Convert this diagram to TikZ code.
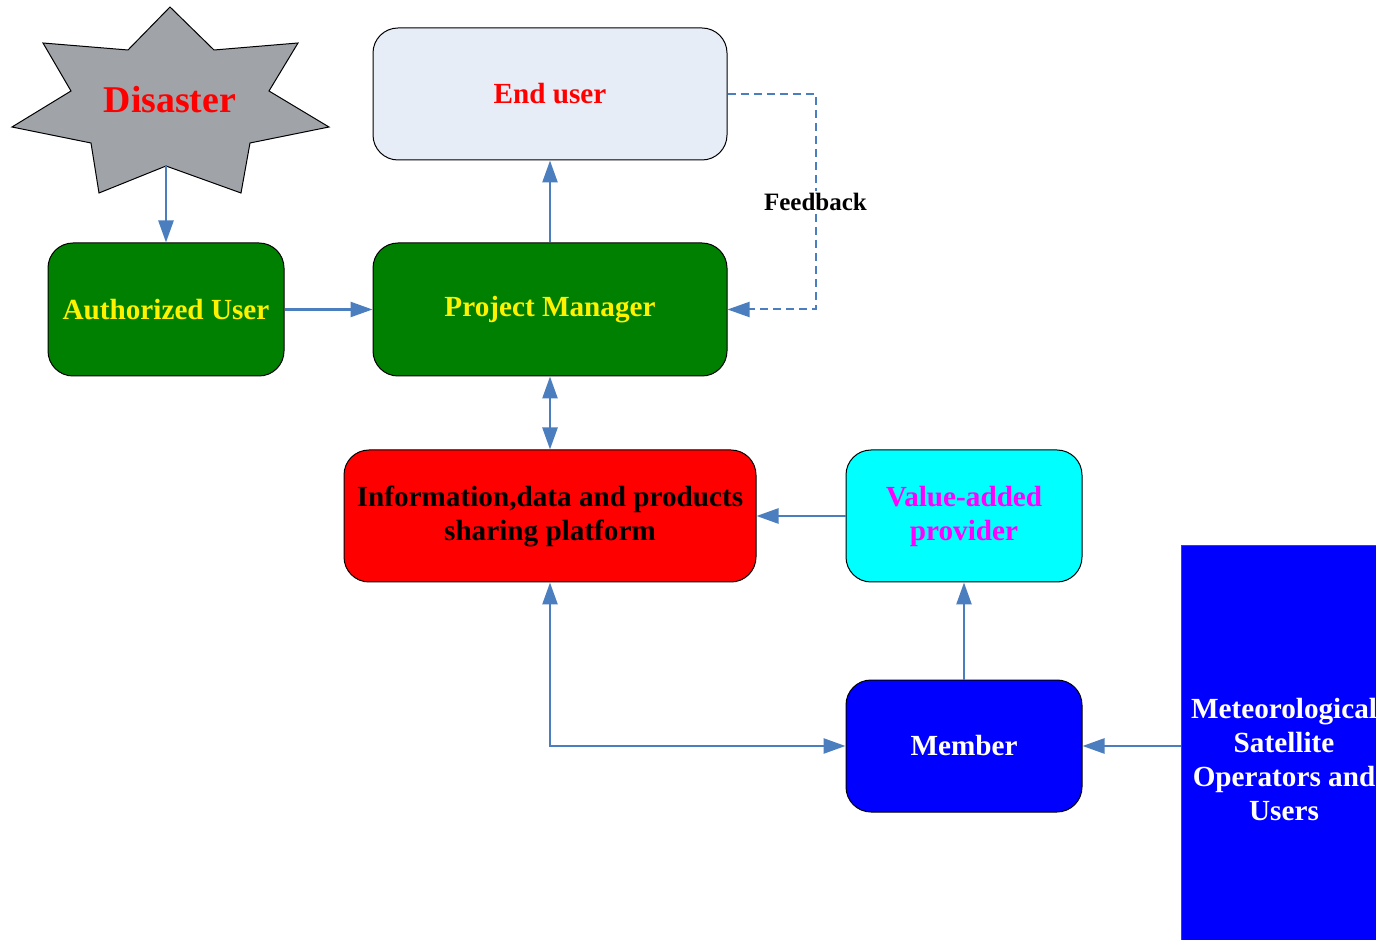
\documentclass[tikz,border=0pt]{standalone}
\usepackage{fontspec}
\setmainfont{Liberation Serif}
\usetikzlibrary{positioning,arrows.meta}
\definecolor{link}{HTML}{4A7EBF}
\definecolor{starfill}{HTML}{A0A3A8}
\definecolor{userfill}{HTML}{E6EDF7}
\definecolor{mgr}{HTML}{008000}
\definecolor{vafill}{HTML}{00FFFF}
\definecolor{vatext}{HTML}{FF00FF}
\definecolor{memfill}{HTML}{0000FF}
\tikzset{
  box/.style={rectangle,draw=black,line width=0.5pt,rounded corners=12.5pt,
    align=center,inner sep=2pt,font=\fontsize{14.6}{17}\selectfont\bfseries,
    minimum width=118pt,minimum height=66.5pt},
  fl/.style={->,>={Triangle[length=11pt,width=7.5pt]},draw=link,line width=1.25pt},
  fb/.style={fl,line width=1pt,dash pattern=on 4pt off 2.5pt},
}
\begin{document}
\begin{tikzpicture}[x=0.5pt,y=-0.5pt]
  \clip (0,0) rectangle (1376,940);
  % disaster star
  \draw[fill=starfill,line width=0.5pt]
    (170,7) -- (214,50) -- (298,43) -- (269,91) -- (329,127) -- (250,143)
    -- (241,193) -- (166,166) -- (99,193) -- (91,143) -- (12,127) -- (71,91)
    -- (43,43) -- (128,50) -- cycle;
  \coordinate (dis-b) at (166,166);
  \node[text=red,font=\fontsize{18.9}{22}\selectfont\bfseries] (dis) at (170,100) {Disaster};
  % boxes
  \node[box,fill=mgr,text=yellow] (auth) at (166,309.5) {Authorized User};
  \node[box,fill=mgr,text=yellow,minimum width=177pt,right=44pt of auth] (pm) {Project Manager};
  \node[box,fill=userfill,text=red,minimum width=177pt,minimum height=66pt,above=41pt of pm] (eu) {End user};
  \node[box,fill=red,text=black,minimum width=206pt,minimum height=66pt,below=36.5pt of pm] (info)
    {Information,data and products\\sharing platform};
  \node[box,fill=vafill,text=vatext,minimum height=66pt,right=44.5pt of info] (va) {Value-added\\provider};
  \node[box,fill=memfill,text=white,minimum height=66pt,below=48.5pt of va] (mem) {Member};
  \node[box,rounded corners=0pt,fill=memfill,text=white,draw=black!70,line width=0.4pt,
    minimum width=103pt,minimum height=215pt] (met) at (1284,760)
    {Meteorological\\Satellite\\Operators and\\Users};
  % links
  \draw[fl] (dis-b) -- (auth);
  \draw[fl] (auth) -- (pm);
  \draw[fl] (pm) -- (eu);
  \draw[fl,<->] (pm) -- (info);
  \draw[fl] (va) -- (info);
  \draw[fl] (mem) -- (va);
  \draw[fl,<->] (info) |- (mem);
  \draw[fl] (met.west |- mem) -- (mem);
  \draw[fb] (eu.east) -- ++(88,0) |- node[pos=0.25,fill=white,text=black,inner sep=1pt,
    font=\fontsize{12.5}{14}\selectfont\bfseries] (fbk) {Feedback} (pm.east);
\end{tikzpicture}
\end{document}
